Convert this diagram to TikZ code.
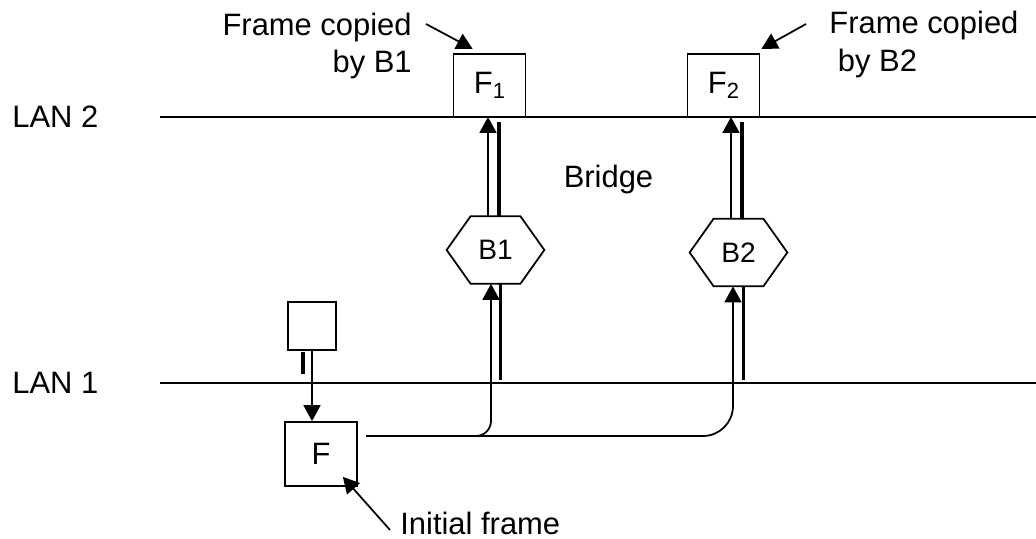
\documentclass[tikz,border=0pt]{standalone}
\usepackage{fontspec}
\setmainfont{Liberation Sans}
\usepackage{tikz}
\usetikzlibrary{arrows.meta}

\begin{document}
\begin{tikzpicture}[>={Triangle[length=0.32cm,width=0.34cm]},line cap=butt,
  font=\fontsize{17.6}{21.5}\selectfont,
  lan/.style={line width=1pt},
  framebox/.style={draw,line width=1pt,minimum width=1.44cm,minimum height=1.27cm,inner sep=0pt},
  bridgebox/.style={minimum width=1.94cm,minimum height=1.34cm,inner sep=0pt,
    font=\fontsize{16}{18}\selectfont},
  txt/.style={inner sep=0pt},
  thin/.style={line width=1pt},
  thick/.style={line width=2.2pt}]
\useasboundingbox (0,0) rectangle (20.72,10.78);
% the two LANs
\draw[lan] (3.2,8.44) -- (20.72,8.44);
\draw[lan] (3.2,3.12) -- (20.72,3.12);
\node[txt,anchor=west] (lan2) at (0.24,8.44) {LAN 2};
\node[txt,anchor=west] (lan1) at (0.24,3.12) {LAN 1};
\node[txt] (bridge) at (12.17,7.18) {Bridge};
% frames
\node[framebox] (f1) at (9.79,9.07) {F\raisebox{-0.1cm}{\fontsize{12.5}{14}\selectfont 1}};
\node[framebox] (f2) at (14.47,9.07) {F\raisebox{-0.1cm}{\fontsize{12.5}{14}\selectfont 2}};
\node[framebox,minimum width=0.96cm,minimum height=0.96cm] (sq) at (6.24,4.26) {};
\node[framebox,minimum height=1.28cm] (f) at (6.42,1.70) {F};
% bridges
\node[bridgebox] (b1) at (9.91,5.78) {B1};
\node[bridgebox] (b2) at (14.77,5.73) {B2};
\foreach \b in {b1,b2}{
  \draw[thin,line join=miter] (\b.west) -- ([xshift=0.48cm]\b.north west) -- ([xshift=-0.48cm]\b.north east)
    -- (\b.east) -- ([xshift=-0.48cm]\b.south east) -- ([xshift=0.48cm]\b.south west) -- cycle;
  % copies through the bridges
  \draw[thin,->] ([xshift=-0.15cm]\b.north) -- ([xshift=-0.15cm]\b.north |- 0,8.44);
  \draw[thick] ([xshift=0.07cm]\b.north) -- ([xshift=0.07cm]\b.north |- 0,8.34);
  \draw[thick] ([xshift=0.1cm]\b.south) -- ([xshift=0.1cm]\b.south |- 0,3.18);
}
% initial frame on LAN 1
\draw[thin,->] (sq.south) -- (sq.south |- f.north);
\draw[line width=2.2pt] (6.06,3.74) -- (6.06,3.3);
\coordinate (fout) at (7.32,2.06);
\draw[thin,->,rounded corners=0.3cm] (fout) -| ([xshift=-0.09cm]b1.south);
\draw[thin,->,rounded corners=0.6cm] (fout) -| ([xshift=-0.11cm]b2.south);
% labels
\node[txt,align=right,anchor=east] (cp1) at (8.24,9.86) {Frame copied\\by B1};
\node[txt,align=left,anchor=west] (cp2) at (16.58,9.89) {Frame copied\\~by B2};
\node[txt,anchor=west] (init) at (8.0,0.32) {Initial frame};
\coordinate (a1) at (8.52,10.3);
\coordinate (a2) at (16.12,10.3);
\coordinate (a3) at (7.8,0.18);
\draw[thin,->] (a1) -- ([xshift=0.4cm,yshift=0.08cm]f1.north west);
\draw[thin,->] (a2) -- ([xshift=0.02cm,yshift=0.08cm]f2.north east);
\draw[thin,->] (a3) -- ([xshift=-0.3cm,yshift=0.2cm]f.south east);
\end{tikzpicture}
\end{document}
